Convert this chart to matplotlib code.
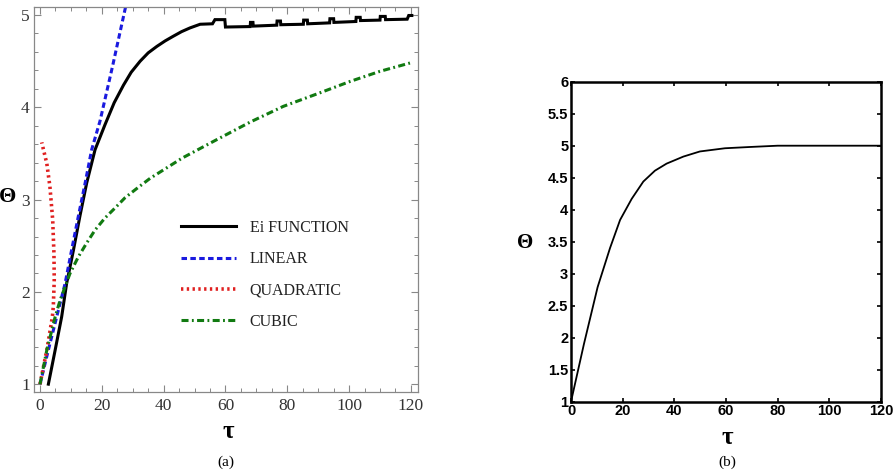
import matplotlib
matplotlib.use("Agg")
import matplotlib.pyplot as plt
from matplotlib.ticker import MultipleLocator

# ---- panel (a) data ----
ei_tau = [2.7, 4.9, 7.0, 8.6, 10.8, 12.9, 15.1, 17.8, 21.0, 24.0, 27.0, 29.5, 32.4, 35.0, 37.8, 40.5,
          43.1, 45.8, 48.5, 51.8, 55.8,
          56.6, 59.8, 60.0,
          68.0, 68.1, 68.9, 69.0,
          76.6, 76.7, 77.8, 77.9,
          85.2, 85.3, 86.5, 86.6,
          93.7, 93.8, 95.0, 95.1,
          102.2, 102.3, 103.6, 103.7,
          110.0, 110.1, 111.7, 111.8,
          118.8, 119.3, 120.3]
ei_theta = [1.0, 1.37, 1.73, 2.09, 2.45, 2.82, 3.18, 3.54, 3.81, 4.05, 4.24, 4.38, 4.50, 4.59, 4.66, 4.72,
            4.77, 4.82, 4.86, 4.90, 4.905,
            4.95, 4.95, 4.87,
            4.875, 4.92, 4.92, 4.88,
            4.89, 4.935, 4.935, 4.895,
            4.90, 4.945, 4.945, 4.905,
            4.915, 4.96, 4.96, 4.92,
            4.93, 4.975, 4.975, 4.94,
            4.945, 4.985, 4.985, 4.95,
            4.955, 4.995, 4.995]

lin_tau = [0, 2.7, 5.4, 8.1, 10.2, 12.4, 14.6, 16.7, 19.4, 23.5, 27.5, 28.2]
lin_theta = [1.0, 1.37, 1.73, 2.09, 2.45, 2.82, 3.18, 3.54, 3.85, 4.45, 5.06, 5.16]

quad_tau = [0, 2.2, 4.0, 4.3, 4.6, 4.5, 4.1, 3.2, 2.2, 0.55]
quad_theta = [1.0, 1.37, 1.73, 1.84, 2.13, 2.42, 2.78, 3.14, 3.39, 3.62]

cub_tau = [0, 2.2, 4.9, 6.5, 9.7, 12.4, 15.1, 17.8, 21.0, 24.3, 27.5, 31.3, 35.6, 46.0, 57.2, 68.0, 78.7,
           90.0, 100.3, 110.0, 119.7]
cub_theta = [1.0, 1.37, 1.73, 1.91, 2.2, 2.38, 2.53, 2.67, 2.80, 2.91, 3.02, 3.12, 3.23, 3.45, 3.65, 3.84, 4.01,
             4.15, 4.28, 4.39, 4.48]

# ---- panel (b) data ----
b_tau = [0, 5, 10.3, 15.1, 19.0, 23.5, 28.0, 32.5, 37.0, 43.5, 49.9, 59.6, 69.3, 80, 100, 120]
b_theta = [1.0, 1.9, 2.79, 3.40, 3.84, 4.17, 4.44, 4.61, 4.72, 4.83, 4.91, 4.96, 4.98, 5.0, 5.0, 5.0]

serif = ['Liberation Serif', 'DejaVu Serif']
sans = ['Liberation Sans', 'DejaVu Sans']

fig = plt.figure(figsize=(8.96, 4.70), dpi=100)

# ---------------- panel (a) ----------------
ax = fig.add_axes([34 / 896, 1 - 392 / 470, 384 / 896, 385 / 470])
ax.plot(ei_tau, ei_theta, color='black', lw=2.2, label='Ei FUNCTION', solid_joinstyle='miter')
ax.plot(lin_tau, lin_theta, color='#1a1adf', lw=2.2, ls=(0, (1.8, 1.1)), label='LINEAR')
ax.plot(quad_tau, quad_theta, color='#e02020', lw=2.6, ls=(0, (0.65, 0.95)), label='QUADRATIC')
ax.plot(cub_tau, cub_theta, color='#117a11', lw=2.2, ls=(0, (2.3, 1.1, 0.6, 1.1)), label='CUBIC')

ax.set_xlim(-1.95, 122.3)
ax.set_ylim(0.915, 5.087)
ax.xaxis.set_major_locator(MultipleLocator(20))
ax.xaxis.set_minor_locator(MultipleLocator(5))
ax.yaxis.set_major_locator(MultipleLocator(1))
ax.yaxis.set_minor_locator(MultipleLocator(0.2))
ax.tick_params(which='both', direction='in', top=True, right=True, color='#888888')
ax.tick_params(which='major', length=5, width=0.8)
ax.tick_params(which='minor', length=3, width=0.7)
for lab in ax.get_xticklabels() + ax.get_yticklabels():
    lab.set_fontfamily(serif)
    lab.set_fontsize(12.5)
    lab.set_color('#333333')
ax.tick_params(axis='x', pad=4)
ax.tick_params(axis='y', pad=3)
for sp in ax.spines.values():
    sp.set_color('#888888')
    sp.set_linewidth(0.9)

leg = ax.legend(loc='upper left', bbox_to_anchor=(181 / 896, 1 - 220 / 470),
                bbox_transform=fig.transFigure, frameon=False,
                prop={'family': serif, 'size': 11.5}, handlelength=3.45,
                handletextpad=0.85, labelspacing=0.95, borderpad=0, borderaxespad=0)
for t in leg.get_texts():
    t.set_color('#222222')

fig.text(8 / 896, 1 - 197 / 470, 'Θ', family=serif, weight='bold', fontsize=16, ha='center', va='center')
fig.text(228 / 896, 1 - 432 / 470, 'τ', family=serif, weight='bold', fontsize=18, ha='center', va='center')
fig.text(226 / 896, 1 - 462 / 470, '(a)', family=serif, fontsize=11, ha='center', va='center')

# ---------------- panel (b) ----------------
bx = fig.add_axes([571 / 896, 1 - 401.7 / 470, 310 / 896, 320 / 470])
bx.plot(b_tau, b_theta, color='black', lw=1.3)
bx.set_xlim(0, 120)
bx.set_ylim(1, 6)
bx.xaxis.set_major_locator(MultipleLocator(20))
bx.yaxis.set_major_locator(MultipleLocator(0.5))
bx.set_yticklabels([f'{v:g}' for v in bx.get_yticks()])
bx.tick_params(direction='in', top=True, right=True, length=3, width=1.2, pad=2)
for lab in bx.get_xticklabels() + bx.get_yticklabels():
    lab.set_fontfamily(sans)
    lab.set_fontweight('bold')
    lab.set_fontsize(10.5)
for sp in bx.spines.values():
    sp.set_linewidth(1.8)

fig.text(525 / 896, 1 - 243 / 470, 'Θ', family=serif, weight='bold', fontsize=15, ha='center', va='center')
fig.text(727 / 896, 1 - 437 / 470, 'τ', family=serif, weight='bold', fontsize=18, ha='center', va='center')
fig.text(727 / 896, 1 - 462 / 470, '(b)', family=serif, fontsize=11, ha='center', va='center')

fig.savefig('out.png', dpi=100)
